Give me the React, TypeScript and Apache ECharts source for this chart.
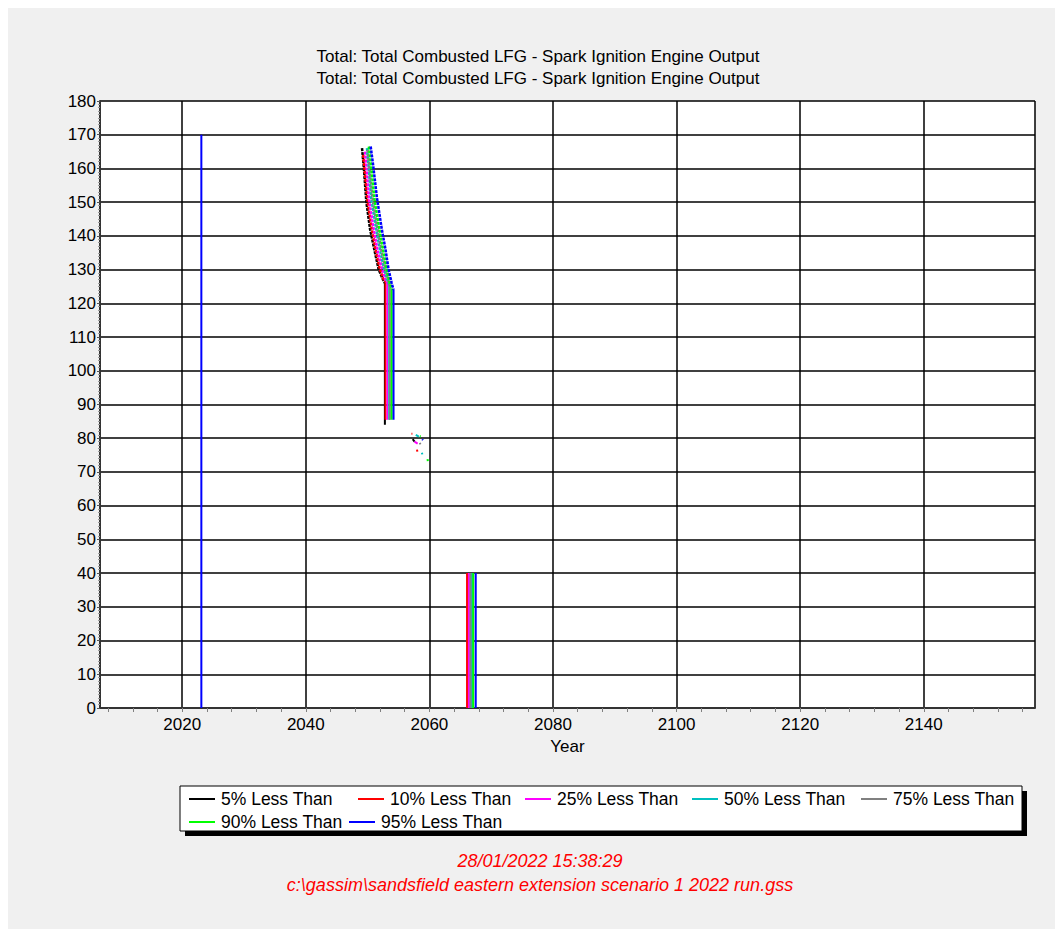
import React, { useEffect, useRef } from "react";
import * as echarts from "echarts";

// ---------- text ----------
const titleLine = "Total: Total Combusted LFG - Spark Ignition Engine Output";
const stampDate = "28/01/2022 15:38:29";
const stampFile = "c:\\gassim\\sandsfield eastern extension scenario 1 2022 run.gss";

// ---------- axes ----------
const xMin = 2006.7;
const xMax = 2158;
const yMin = 0;
const yMax = 180;
const yStep = 10;
const minorYearTicks = [
  2008, 2012, 2016, 2020, 2024, 2028, 2032, 2036, 2040, 2044, 2048, 2052, 2056,
  2060, 2064, 2068, 2072, 2076, 2080, 2084, 2088, 2092, 2096, 2100, 2104, 2108,
  2112, 2116, 2120, 2124, 2128, 2132, 2136, 2140, 2144, 2148, 2152, 2156,
];

// ---------- series ----------
const seriesNames = [
  "5% Less Than",
  "10% Less Than",
  "25% Less Than",
  "50% Less Than",
  "75% Less Than",
  "90% Less Than",
  "95% Less Than",
];
const seriesColors = ["#000000", "#ff0000", "#ff00ff", "#00c0c0", "#808080", "#00ff00", "#0000ff"];

// 5%
const p05Desc = [[2049.1, 166], [2049.4, 160], [2049.8, 150], [2050.4, 142], [2051.2, 135], [2051.8, 130], [2052.5, 127], [2052.8, 126]];
const p05Drop = [[2052.8, 126], [2052.8, 84]];
const p05Late = [[2057.3, 79.7], [2057.6, 79]];
const p05Tail = [[2066.2, 0], [2066.2, 40]];
// 10%
const p10Desc = [[2049.3, 164], [2049.6, 158], [2050.0, 150], [2050.7, 142], [2051.4, 135], [2052.0, 130], [2052.6, 127], [2052.9, 126.5]];
const p10Drop = [[2052.9, 126.5], [2052.9, 85.5]];
const p10LateA = [[2057.1, 81.3], [2057.25, 81.3]];
const p10LateB = [[2058.0, 76.6], [2058.05, 76.0]];
const p10Tail = [[2066.1, 0], [2066.1, 40]];
// 25%
const p25Desc = [[2049.6, 165], [2049.9, 159], [2050.3, 150], [2051.0, 142], [2051.7, 135], [2052.4, 130], [2052.9, 127], [2053.2, 126]];
const p25Drop = [[2053.2, 126], [2053.2, 85.5]];
const p25Late = [[2057.6, 79], [2058.1, 78.4]];
const p25Tail = [[2066.4, 0], [2066.4, 40]];
// 50%
const p50Desc = [[2049.9, 166], [2050.2, 160], [2050.6, 151], [2051.4, 142], [2052.1, 135], [2052.7, 130], [2053.2, 127], [2053.5, 125.5]];
const p50Drop = [[2053.5, 125.5], [2053.5, 85.5]];
const p50LateA = [[2057.8, 81], [2058.3, 80.5]];
const p50LateB = [[2058.8, 75.7], [2058.85, 75.2]];
const p50Tail = [[2066.9, 0], [2066.9, 40]];
// 75%
const p75Desc = [[2050.0, 165.5], [2050.3, 160], [2050.8, 151], [2051.6, 142], [2052.3, 135], [2052.9, 130], [2053.4, 126.5], [2053.6, 125]];
const p75Drop = [[2053.6, 125], [2053.6, 85.5]];
const p75Late = [[2058.45, 78.6], [2058.55, 78.2]];
const p75Tail = [[2066.65, 0], [2066.65, 40]];
// 90%
const p90Desc = [[2050.2, 166.5], [2050.6, 160.5], [2051.1, 151], [2051.9, 142], [2052.6, 135], [2053.1, 130], [2053.6, 126], [2053.9, 124.5]];
const p90Drop = [[2053.9, 124.5], [2053.9, 85.5]];
const p90LateA = [[2058.45, 80.6], [2058.6, 80.5]];
const p90LateB = [[2059.7, 73.8], [2059.75, 73.2]];
const p90Tail = [[2067.1, 0], [2067.1, 40]];
// 95%
const p95Spike = [[2023.1, 0], [2023.1, 170]];
const p95Dot = [[2049.85, 168.7], [2049.95, 168.7]];
const p95Desc = [[2050.5, 166.5], [2050.9, 161], [2051.5, 151.5], [2052.3, 142], [2052.9, 136], [2053.4, 130], [2053.9, 126], [2054.2, 124]];
const p95Drop = [[2054.2, 124], [2054.2, 85.5]];
const p95Late = [[2058.85, 79.7], [2058.95, 79.4]];
const p95Tail = [[2067.5, 0], [2067.5, 40]];

const descParts = [p05Desc, p10Desc, p25Desc, p50Desc, p75Desc, p90Desc, p95Desc];
const solidParts = [
  [p05Drop, p05Late, p05Tail],
  [p10Drop, p10LateA, p10LateB, p10Tail],
  [p25Drop, p25Late, p25Tail],
  [p50Drop, p50LateA, p50LateB, p50Tail],
  [p75Drop, p75Late, p75Tail],
  [p90Drop, p90LateA, p90LateB, p90Tail],
  [p95Spike, p95Dot, p95Drop, p95Late, p95Tail],
];

// legend placement (chart px)
const legendLefts = [181, 350, 517, 684, 853, 181, 341];
const legendTops = [782, 782, 782, 782, 782, 805, 805];

const FONT = 'Arial, "Liberation Sans", sans-serif';

function joinPieces(pieces: number[][][]) {
  const out: any[] = [];
  pieces.forEach((p, i) => {
    if (i) out.push(["-", "-"]);
    p.forEach((pt) => out.push(pt));
  });
  return out;
}

function buildOption() {
  const series: any[] = [];
  seriesNames.forEach((name, i) => {
    series.push({
      name,
      type: "line",
      data: descParts[i],
      showSymbol: false,
      symbol: "none",
      silent: true,
      lineStyle: { color: seriesColors[i], width: 2.5, type: [3, 1] },
      itemStyle: { color: seriesColors[i] },
      emphasis: { disabled: true },
      z: 2 + i,
    });
    series.push({
      name,
      type: "line",
      data: joinPieces(solidParts[i]),
      showSymbol: false,
      symbol: "none",
      silent: true,
      connectNulls: false,
      lineStyle: { color: seriesColors[i], width: 2 },
      itemStyle: { color: seriesColors[i] },
      emphasis: { disabled: true },
      z: 2 + i,
    });
  });

  const legends = seriesNames.map((name, i) => ({
    data: [name],
    left: legendLefts[i],
    top: legendTops[i],
    padding: 0,
    itemGap: 0,
    itemWidth: 26,
    itemHeight: 2,
    icon: "rect",
    selectedMode: false,
    z: 10,
    textStyle: { fontSize: 17.5, color: "#000", fontFamily: FONT, padding: [0, 0, 0, 1] },
  }));

  return {
    animation: false,
    backgroundColor: "#f0f0f0",
    textStyle: { fontFamily: FONT },
    title: [
      {
        text: titleLine + "\n" + titleLine,
        left: 525,
        top: 32,
        textAlign: "center",
        textStyle: { fontSize: 17, fontWeight: "normal", color: "#000", lineHeight: 22, fontFamily: FONT },
      },
      {
        text: stampDate + "\n" + stampFile,
        left: 527,
        top: 836,
        textAlign: "center",
        textStyle: { fontSize: 18, fontWeight: "normal", fontStyle: "italic", color: "#ff0000", lineHeight: 24, fontFamily: FONT },
      },
    ],
    legend: legends,
    graphic: [
      { type: "rect", z: 1, shape: { x: 177, y: 783, width: 842, height: 45 }, style: { fill: "#000" } },
      { type: "rect", z: 2, shape: { x: 172, y: 778, width: 842, height: 45 }, style: { fill: "#fff", stroke: "#000", lineWidth: 1 } },
    ],
    grid: {
      left: 92,
      top: 93,
      right: 20,
      bottom: 221,
      show: true,
      backgroundColor: "#ffffff",
      borderWidth: 0,
    },
    xAxis: [
      {
        type: "value",
        min: xMin,
        max: xMax,
        splitNumber: 8,
        position: "bottom",
        name: "Year",
        nameLocation: "middle",
        nameGap: 29,
        nameTextStyle: { fontSize: 17, color: "#000", fontFamily: FONT },
        axisLine: { show: true, lineStyle: { color: "#333", width: 2 } },
        axisTick: { show: false },
        axisLabel: {
          fontSize: 17,
          color: "#000",
          margin: 8,
          showMinLabel: false,
          showMaxLabel: false,
          formatter: (v: number) => String(v),
        },
        splitLine: { show: true, lineStyle: { color: "#000", width: 1.5 } },
      },
      {
        type: "value",
        min: xMin,
        max: xMax,
        position: "bottom",
        axisLine: { show: false },
        axisLabel: { show: false },
        splitLine: { show: false },
        axisTick: {
          show: true,
          customValues: minorYearTicks,
          length: 4,
          lineStyle: { color: "#808080", width: 1 },
        },
      },
    ],
    yAxis: {
      type: "value",
      min: yMin,
      max: yMax,
      interval: yStep,
      axisLine: { show: true, lineStyle: { color: "#333", width: 2 } },
      axisTick: { show: true, length: 3, lineStyle: { color: "#555" } },
      minorTick: { show: true, splitNumber: 10, length: 2, lineStyle: { color: "#999" } },
      axisLabel: { fontSize: 17, color: "#000", margin: 4 },
      splitLine: { show: true, lineStyle: { color: "#000", width: 1.5 } },
    },
    series,
  };
}

export default function App() {
  const ref = useRef<HTMLDivElement>(null);
  useEffect(() => {
    document.body.style.margin = "8px 0 0 8px";
    document.body.style.overflow = "hidden";
    const chart = echarts.init(ref.current!, null, { renderer: "svg" });
    chart.setOption(buildOption() as any);
    return () => chart.dispose();
  }, []);
  return <div ref={ref} style={{ width: 1047, height: 921, background: "#f0f0f0" }} />;
}
